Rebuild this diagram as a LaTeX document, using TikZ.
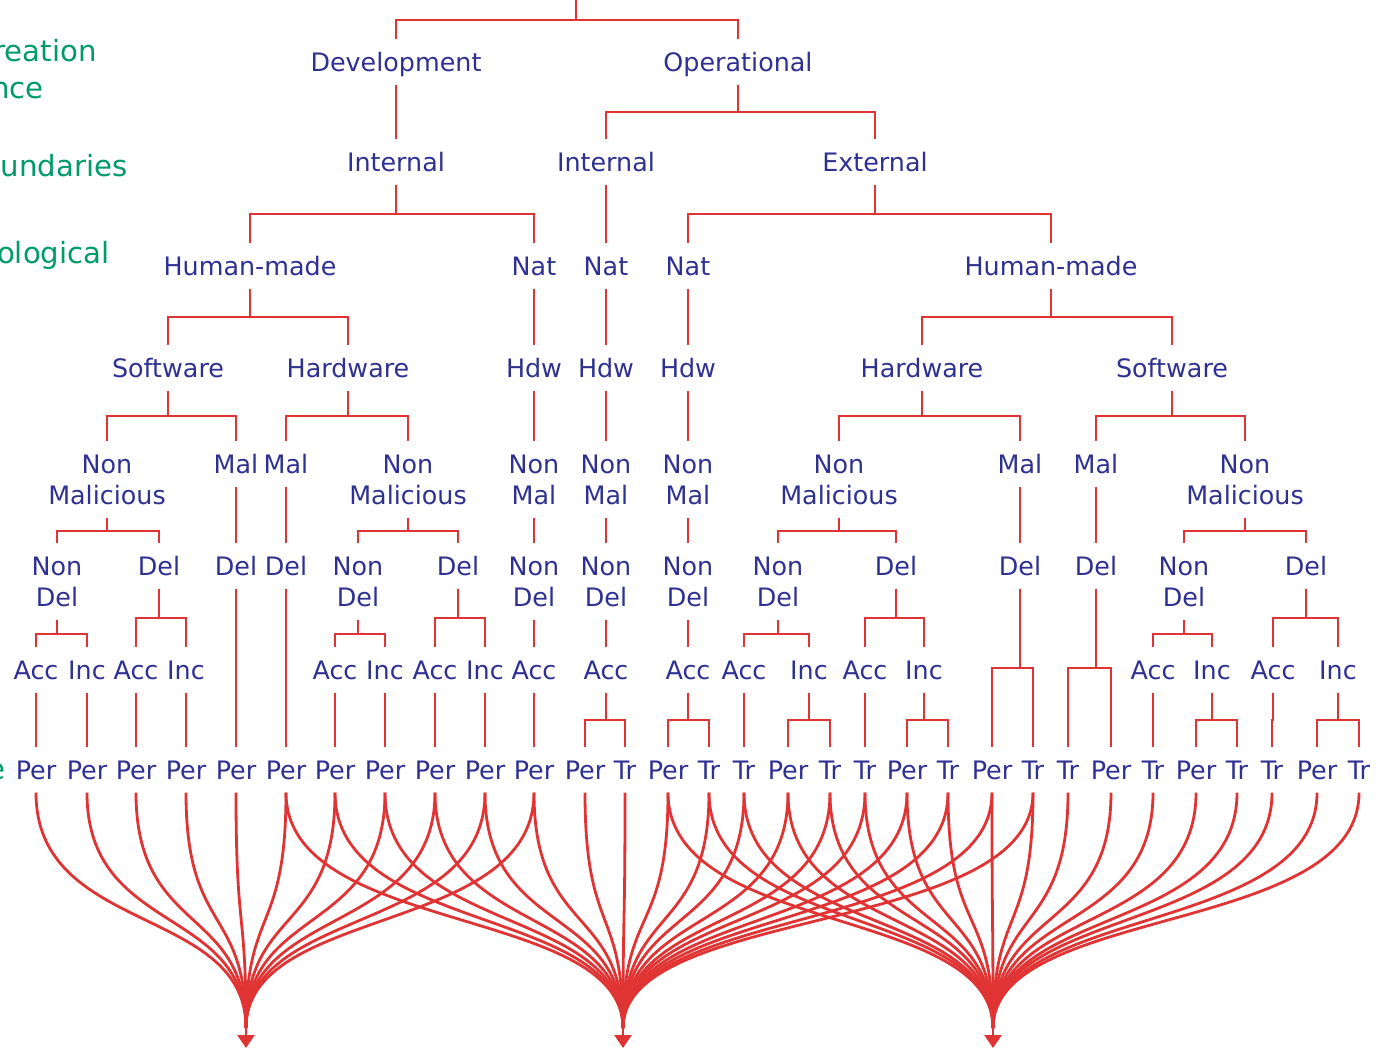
\documentclass[tikz,border=0pt]{standalone}
\usepackage{fontspec}
\setmainfont{DejaVu Sans}
\usetikzlibrary{calc,arrows.meta}
\definecolor{inkblue}{RGB}{46,49,146}
\definecolor{linered}{RGB}{224,52,52}
\definecolor{labgreen}{RGB}{0,155,105}
\begin{document}
\begin{tikzpicture}[x=0.5pt,y=-0.5pt,
  lbl/.style={font=\fontsize{12.7}{15.5}\selectfont, text=inkblue, inner sep=0pt,
              text height=9.26pt, text depth=0pt, minimum height=22.3pt},
  lbltwo/.style={font=\fontsize{12.7}{15.5}\selectfont, text=inkblue, inner sep=0pt,
              align=center, minimum height=37.8pt},
  side/.style={font=\fontsize{14.6}{18}\selectfont, text=labgreen, anchor=base east, inner sep=0pt},
  treeline/.style={draw=linered, line width=1pt},
  feedline/.style={draw=linered, line width=1.4pt}]
\useasboundingbox (0,0) rectangle (1380,1049);
\clip (0,0) rectangle (1380,1049);

% dimension labels at the left margin
\node[side] (gA) at (97,61) {reation};
\node[side] (gB) at (44,98) {nce};
\node[side] (gC) at (128,176) {undaries};
\node[side] (gD) at (110,263) {ological};
\node[side] (gE) at (6,779) {e};

% phase
\coordinate (root) at (576,0);
\node[lbl] (dev) at (396,62) {Development};
\node[lbl] (op)  at (738,62) {Operational};
% boundaries
\node[lbl] (intD) at (396,162) {Internal};
\node[lbl] (intO) at (606,162) {Internal};
\node[lbl] (extO) at (875,162) {External};
% cause
\node[lbl] (hmD)  at (250,266) {Human-made};
\node[lbl] (natD) at (534,266) {Nat};
\node[lbl] (natI) at (606,266) {Nat};
\node[lbl] (natE) at (688,266) {Nat};
\node[lbl] (hmE)  at (1051,266) {Human-made};
% dimension
\node[lbl] (swD)  at (168,368) {Software};
\node[lbl] (hwD)  at (348,368) {Hardware};
\node[lbl] (hdwD) at (534,368) {Hdw};
\node[lbl] (hdwI) at (606,368) {Hdw};
\node[lbl] (hdwE) at (688,368) {Hdw};
\node[lbl] (hwE)  at (922,368) {Hardware};
\node[lbl] (swE)  at (1172,368) {Software};
% objective
\node[lbltwo] (nmSD) at (107,479.5) {Non\\Malicious};
\node[lbl]    (mSD)  at (236,464) {Mal};
\node[lbl]    (mHD)  at (286,464) {Mal};
\node[lbltwo] (nmHD) at (408,479.5) {Non\\Malicious};
\node[lbltwo] (nmND) at (534,479.5) {Non\\Mal};
\node[lbltwo] (nmNI) at (606,479.5) {Non\\Mal};
\node[lbltwo] (nmNE) at (688,479.5) {Non\\Mal};
\node[lbltwo] (nmHE) at (839,479.5) {Non\\Malicious};
\node[lbl]    (mHE)  at (1020,464) {Mal};
\node[lbl]    (mSE)  at (1096,464) {Mal};
\node[lbltwo] (nmSE) at (1245,479.5) {Non\\Malicious};
% intent
\node[lbltwo] (n1)  at (57,581.5) {Non\\Del};
\node[lbl]    (d1)  at (159,566) {Del};
\node[lbl]    (d2)  at (236,566) {Del};
\node[lbl]    (d3)  at (286,566) {Del};
\node[lbltwo] (n4)  at (358,581.5) {Non\\Del};
\node[lbl]    (d4)  at (458,566) {Del};
\node[lbltwo] (n5)  at (534,581.5) {Non\\Del};
\node[lbltwo] (n6)  at (606,581.5) {Non\\Del};
\node[lbltwo] (n7)  at (688,581.5) {Non\\Del};
\node[lbltwo] (n8)  at (778,581.5) {Non\\Del};
\node[lbl]    (d8)  at (896,566) {Del};
\node[lbl]    (d9)  at (1020,566) {Del};
\node[lbl]    (d10) at (1096,566) {Del};
\node[lbltwo] (n11) at (1184,581.5) {Non\\Del};
\node[lbl]    (d11) at (1306,566) {Del};
% capability
\foreach \nm/\x/\t in {a1/36/Acc, i1/87/Inc, a2/136/Acc, i2/186/Inc, a3/335/Acc, i3/385/Inc,
    a4/435/Acc, i4/485/Inc, a5/534/Acc, a6/606/Acc, a7/688/Acc, a8/744/Acc, i8/809/Inc,
    a9/865/Acc, i9/924/Inc, a10/1153/Acc, i10/1212/Inc, a11/1273/Acc, i11/1338/Inc}
  \node[lbl] (\nm) at (\x,670) {\t};
% persistence
\foreach \x/\t [count=\i] in {36/Per, 87/Per, 136/Per, 186/Per, 236/Per, 286/Per, 335/Per,
    385/Per, 435/Per, 485/Per, 534/Per, 585/Per, 625/Tr, 668/Per, 709/Tr, 744/Tr, 788/Per,
    830/Tr, 865/Tr, 907/Per, 948/Tr, 992/Per, 1033/Tr, 1068/Tr, 1111/Per, 1153/Tr, 1196/Per,
    1237/Tr, 1272/Tr, 1317/Per, 1359/Tr}
  \node[lbl] (L\i) at (\x,770) {\t};

% tree connectors
\foreach \p/\c in {root/dev, root/op, dev/intD, op/intO, op/extO,
    intD/hmD, intD/natD, intO/natI, extO/natE, extO/hmE,
    hmD/swD, hmD/hwD, natD/hdwD, natI/hdwI, natE/hdwE, hmE/hwE, hmE/swE,
    swD/nmSD, swD/mSD, hwD/mHD, hwD/nmHD, hdwD/nmND, hdwI/nmNI, hdwE/nmNE,
    hwE/nmHE, hwE/mHE, swE/mSE, swE/nmSE,
    nmSD/n1, nmSD/d1, mSD/d2, mHD/d3, nmHD/n4, nmHD/d4, nmND/n5, nmNI/n6, nmNE/n7,
    nmHE/n8, nmHE/d8, mHE/d9, mSE/d10, nmSE/n11, nmSE/d11,
    n1/a1, n1/i1, d1/a2, d1/i2, n4/a3, n4/i3, d4/a4, d4/i4, n5/a5, n6/a6, n7/a7,
    n8/a8, n8/i8, d8/a9, d8/i9, n11/a10, n11/i10, d11/a11, d11/i11,
    a1/L1, i1/L2, a2/L3, i2/L4, d2/L5, d3/L6, a3/L7, i3/L8, a4/L9, i4/L10, a5/L11,
    a6/L12, a6/L13, a7/L14, a7/L15, a8/L16, i8/L17, i8/L18, a9/L19, i9/L20, i9/L21,
    d9/L22, d9/L23, d10/L24, d10/L25, a10/L26, i10/L27, i10/L28, a11/L29, i11/L30, i11/L31}
  \draw[treeline] (\p.south) |- ($(\p.south)!0.5!(\c.north)$) -| (\c.north);

% grouping flows into the three fault groups
\coordinate (sD) at (246,1028);
\coordinate (sP) at (623,1028);
\coordinate (sI) at (993,1028);
\foreach \i/\s in {1/sD,2/sD,3/sD,4/sD,5/sD,6/sD,7/sD,8/sD,9/sD,10/sD,11/sD,
    6/sP,7/sP,8/sP,9/sP,10/sP,11/sP,12/sP,13/sP,14/sP,15/sP,16/sP,17/sP,18/sP,
    19/sP,20/sP,21/sP,22/sP,23/sP,
    14/sI,15/sI,16/sI,17/sI,18/sI,19/sI,20/sI,21/sI,22/sI,23/sI,24/sI,25/sI,
    26/sI,27/sI,28/sI,29/sI,30/sI,31/sI}
  \draw[feedline] (L\i.south) .. controls +(0,143) and +(0,-123) .. (\s);
\foreach \s in {sD,sP,sI}
  \draw[feedline,-{Triangle[width=8.5pt,length=6.5pt]}] (\s) -- ++(0,20);
\end{tikzpicture}
\end{document}
